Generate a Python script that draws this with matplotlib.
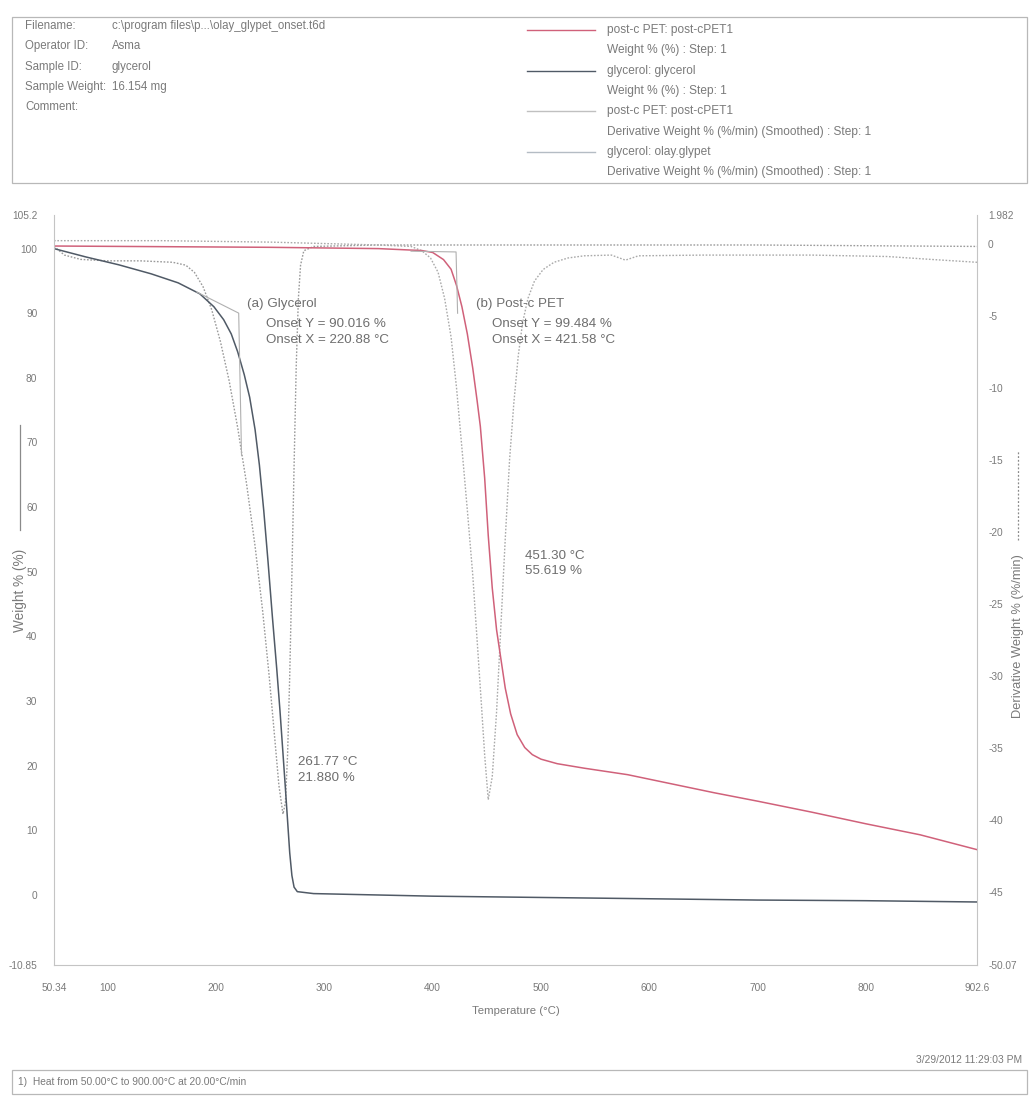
import matplotlib
matplotlib.use("Agg")
import matplotlib.pyplot as plt
from matplotlib import font_manager
from matplotlib.lines import Line2D
from matplotlib.patches import Rectangle

# ---- data ----
glyc_temp = [50.34, 80, 110, 140, 165, 185, 198, 207, 214, 220, 226, 231, 236, 240, 244,
             248, 252, 256, 259, 261.77, 264, 266, 268, 270, 272, 275, 290, 400, 500,
             600, 700, 800, 902.6]
glyc_weight = [100.0, 98.7, 97.5, 96.1, 94.7, 93.0, 91.0, 89.0, 86.8, 84.0, 80.5, 77.0, 72.0,
               66.5, 59.5, 51.5, 43.0, 35.0, 28.5, 21.88, 16.5, 11.5, 6.5, 3.0, 1.2, 0.5,
               0.2, -0.2, -0.4, -0.6, -0.8, -0.9, -1.1]

pet_temp = [50.34, 150, 250, 350, 390, 400, 410, 417, 422, 427, 432, 437, 441, 444, 448,
            451.3, 455, 459, 463, 467, 472, 478, 485, 492, 500, 515, 540, 580, 620, 660,
            700, 750, 800, 850, 902.6]
pet_weight = [100.4, 100.3, 100.2, 100.0, 99.7, 99.4, 98.3, 96.8, 94.3, 91.0, 86.8, 81.5,
              76.5, 72.5, 64.5, 55.62, 47.5, 41.0, 36.5, 32.0, 28.0, 24.8, 22.8, 21.7, 21.0,
              20.3, 19.6, 18.6, 17.2, 15.8, 14.5, 12.8, 11.0, 9.3, 7.0]

glyc_dtg_temp = [50.34, 60, 75, 100, 130, 160, 172, 180, 188, 196, 204, 212, 220, 228, 236,
                 243, 249, 254, 258, 261.77, 264, 266, 268, 270, 272, 274, 276, 278, 281,
                 290, 350, 500, 700, 902.6]
glyc_dtg = [-0.2, -0.8, -1.1, -1.2, -1.2, -1.3, -1.5, -2.0, -3.0, -4.6, -6.8, -9.5, -12.8,
            -16.6, -21.0, -25.5, -30.0, -34.2, -37.6, -39.6, -38.8, -35.5, -30.0, -23.0,
            -15.5, -8.5, -3.8, -1.5, -0.5, -0.2, -0.1, -0.1, -0.1, -0.2]

pet_dtg_temp = [50.34, 150, 250, 300, 350, 380, 390, 398, 405, 411, 417, 422, 427, 432, 437,
                441, 445, 448, 451.3, 455, 459, 463, 467, 471, 475, 479, 483, 488, 494, 502,
                512, 525, 540, 565, 578, 590, 650, 750, 820, 860, 902.6]
pet_dtg = [0.2, 0.2, 0.1, 0.0, -0.1, -0.2, -0.5, -1.0, -2.0, -3.8, -6.5, -10.0, -14.2, -18.5,
           -23.0, -27.5, -32.0, -35.5, -38.6, -37.0, -32.5, -26.5, -20.5, -15.0, -11.0, -7.8,
           -5.5, -3.8, -2.6, -1.8, -1.3, -1.0, -0.85, -0.8, -1.15, -0.85, -0.8, -0.8,
           -0.9, -1.1, -1.3]

# onset tangent construction (baseline start, onset, end of steep tangent)
glyc_tangent_t = [182, 220.88, 223.5]
glyc_tangent_w = [93.3, 90.016, 68.0]
pet_tangent_t = [380, 421.58, 423.0]
pet_tangent_w = [99.6, 99.484, 90.0]

x_ticks = [50.34, 100, 200, 300, 400, 500, 600, 700, 800, 902.6]
x_labels = ["50.34", "100", "200", "300", "400", "500", "600", "700", "800", "902.6"]
left_ticks = [105.2, 100, 90, 80, 70, 60, 50, 40, 30, 20, 10, 0, -10.85]
left_labels = ["105.2", "100", "90", "80", "70", "60", "50", "40", "30", "20", "10", "0", "-10.85"]
right_ticks = [1.982, 0, -5, -10, -15, -20, -25, -30, -35, -40, -45, -50.07]
right_labels = ["1.982", "0", "-5", "-10", "-15", "-20", "-25", "-30", "-35", "-40", "-45", "-50.07"]

header_keys = ["Filename:", "Operator ID:", "Sample ID:", "Sample Weight:", "Comment:"]
header_vals = ["c:\\program files\\p...\\olay_glypet_onset.t6d", "Asma", "glycerol", "16.154 mg", ""]
legend_lines = ["post-c PET: post-cPET1", "Weight % (%) : Step: 1",
                "glycerol: glycerol", "Weight % (%) : Step: 1",
                "post-c PET: post-cPET1", "Derivative Weight % (%/min) (Smoothed) : Step: 1",
                "glycerol: olay.glypet", "Derivative Weight % (%/min) (Smoothed) : Step: 1"]

# ---- fonts ----
try:
    font_manager.findfont("Liberation Sans Narrow", fallback_to_default=False)
    FONT, k = "Liberation Sans Narrow", 1.18
except ValueError:
    FONT, k = "Liberation Sans", 1.0
plt.rcParams["font.family"] = FONT

RED = "#d0617a"
DARK = "#505a66"
DOT = "#9a9a9a"
TXT = "#7a7a7a"
EDGE = "#c4c4c4"

W, H = 1031, 1100
fig = plt.figure(figsize=(W / 100, H / 100), dpi=100)
fig.patch.set_facecolor("white")


def fx(px):
    return px / W


def fy(py):
    return 1 - py / H


ax = fig.add_axes([fx(54), fy(965), fx(977) - fx(54), fy(215) - fy(965)])
ax2 = ax.twinx()

# derivative curves (right axis)
ax2.plot(glyc_dtg_temp, glyc_dtg, color=DOT, lw=1.0, ls=(0, (1.2, 1.2)))
ax2.plot(pet_dtg_temp, pet_dtg, color="#aaaaaa", lw=1.0, ls=(0, (1.2, 1.2)))

# weight curves (left axis)
ax.plot(glyc_temp, glyc_weight, color=DARK, lw=1.1)
ax.plot(pet_temp, pet_weight, color=RED, lw=1.1)

ax.plot(glyc_tangent_t, glyc_tangent_w, color="#b0b0b0", lw=0.8)
ax.plot(pet_tangent_t, pet_tangent_w, color="#b0b0b0", lw=0.8)

ax.set_zorder(ax2.get_zorder() + 1)
ax.patch.set_visible(False)

ax.set_xlim(50.34, 902.6)
ax.set_ylim(-10.85, 105.2)
ax2.set_ylim(-50.07, 1.982)

ax.set_xticks(x_ticks)
ax.set_xticklabels(x_labels)
ax.set_yticks(left_ticks)
ax.set_yticklabels(left_labels)
ax2.set_yticks(right_ticks)
ax2.set_yticklabels(right_labels)

ax.tick_params(axis="x", length=0, pad=13, labelsize=7.3 * k, labelcolor=TXT)
ax.tick_params(axis="y", length=0, pad=12, labelsize=7.3 * k, labelcolor=TXT)
ax2.tick_params(axis="y", length=0, pad=8, labelsize=7.3 * k, labelcolor=TXT)

for a in (ax, ax2):
    for side in ("top", "left", "right", "bottom"):
        a.spines[side].set_visible(False)
ax.spines["left"].set_visible(True)
ax.spines["bottom"].set_visible(True)
ax2.spines["right"].set_visible(True)
for sp in (ax.spines["left"], ax.spines["bottom"], ax2.spines["right"]):
    sp.set_color(EDGE)
    sp.set_linewidth(0.8)

ax.set_xlabel("Temperature (°C)", fontsize=8.2 * k, color=TXT, labelpad=9)

# annotations
ann = dict(fontsize=9.6 * k, color="#6e6e6e", ha="left", va="center")
ax.text(229, 91.5, "(a) Glycerol", **ann)
ax.text(246, 88.3, "Onset Y = 90.016 %", **ann)
ax.text(246, 85.9, "Onset X = 220.88 °C", **ann)
ax.text(440, 91.5, "(b) Post-c PET", **ann)
ax.text(455, 88.3, "Onset Y = 99.484 %", **ann)
ax.text(455, 85.9, "Onset X = 421.58 °C", **ann)
ax.text(485, 52.5, "451.30 °C", **ann)
ax.text(485, 50.1, "55.619 %", **ann)
ax.text(275.5, 20.5, "261.77 °C", **ann)
ax.text(275.5, 18.1, "21.880 %", **ann)

# axis titles with their line samples
fig.text(fx(20), fy(590), "Weight % (%)", rotation=90, ha="center", va="center",
         fontsize=9.8 * k, color=TXT)
fig.add_artist(Line2D([fx(20), fx(20)], [fy(530), fy(425)], transform=fig.transFigure,
                      color="#8a8a8a", lw=0.9))
fig.text(fx(1018), fy(636), "Derivative Weight % (%/min)", rotation=90, ha="center",
         va="center", fontsize=9.3 * k, color=TXT)
fig.add_artist(Line2D([fx(1018), fx(1018)], [fy(540), fy(450)], transform=fig.transFigure,
                      color="#8a8a8a", lw=0.9, ls=(0, (1.5, 1.5))))

# header box
fig.add_artist(Rectangle((fx(12), fy(183)), fx(1027) - fx(12), fy(17) - fy(183),
                         transform=fig.transFigure, fill=False, edgecolor="#b8b8b8", lw=0.9))
for i, (key, val) in enumerate(zip(header_keys, header_vals)):
    y = 26 + 20.3 * i
    fig.text(fx(25), fy(y), key, fontsize=8.3 * k, color=TXT, va="center")
    fig.text(fx(112), fy(y), val, fontsize=8.3 * k, color=TXT, va="center")

legend_colors = [RED, DARK, "#c0c0c0", "#b4bcc4"]
for i, txt in enumerate(legend_lines):
    y = 30 + 20.3 * i
    fig.text(fx(607), fy(y), txt, fontsize=8.6 * k, color=TXT, va="center")
    if i % 2 == 0:
        fig.add_artist(Line2D([fx(527), fx(595)], [fy(y), fy(y)], transform=fig.transFigure,
                              color=legend_colors[i // 2], lw=1.0))

# footer
fig.text(fx(1022), fy(1060), "3/29/2012 11:29:03 PM", ha="right", va="center",
         fontsize=7.4 * k, color=TXT)
fig.add_artist(Rectangle((fx(12), fy(1094)), fx(1027) - fx(12), fy(1070) - fy(1094),
                         transform=fig.transFigure, fill=False, edgecolor="#b8b8b8", lw=0.9))
fig.text(fx(18), fy(1082), "1)  Heat from 50.00°C to 900.00°C at 20.00°C/min", va="center",
         fontsize=7.4 * k, color=TXT)

fig.savefig("out.png", dpi=100, facecolor="white")
